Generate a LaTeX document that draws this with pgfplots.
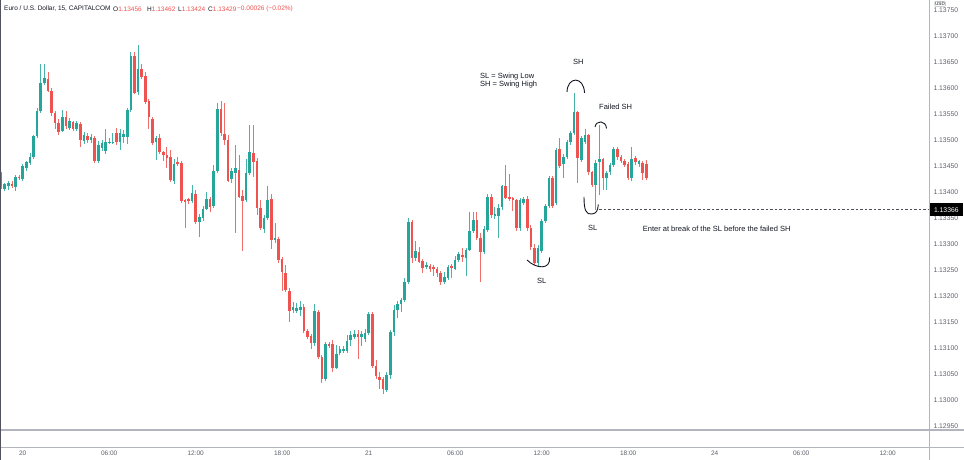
\documentclass[border=0pt]{standalone}
\usepackage{pgfplots}
\pgfplotsset{compat=1.18}
\usepackage{pgfplotstable}
\usepackage{fontspec}
\setmainfont{Liberation Sans}
\definecolor{upc}{HTML}{26A69A}
\definecolor{dnc}{HTML}{EF5350}
\definecolor{txt}{HTML}{131722}
\definecolor{lbl}{HTML}{5D606B}
\definecolor{brd}{HTML}{B2B5BE}
\definecolor{edge}{HTML}{50535E}
\newcommand\fs[1]{\fontsize{#1}{#1}\selectfont}

\pgfplotstableread{
t o h l c
-6 1.13437 1.13440 1.13406 1.13410
-5 1.13406 1.13417 1.13402 1.13415
-4 1.13412 1.13421 1.13404 1.13417
-3 1.13417 1.13421 1.13408 1.13413
-2 1.13410 1.13433 1.13402 1.13429
-1 1.13429 1.13433 1.13423 1.13427
0 1.13427 1.13456 1.13423 1.13452
1 1.13448 1.13462 1.13442 1.13458
2 1.13456 1.13475 1.13452 1.13467
3 1.13467 1.13512 1.13465 1.13508
4 1.13508 1.13562 1.13504 1.13556
5 1.13556 1.13648 1.13552 1.13610
6 1.13610 1.13648 1.13606 1.13619
7 1.13619 1.13631 1.13592 1.13596
8 1.13596 1.13600 1.13546 1.13552
9 1.13552 1.13558 1.13523 1.13533
10 1.13533 1.13542 1.13510 1.13515
11 1.13519 1.13558 1.13515 1.13546
12 1.13544 1.13558 1.13523 1.13527
13 1.13525 1.13542 1.13519 1.13537
14 1.13535 1.13538 1.13517 1.13523
15 1.13523 1.13537 1.13519 1.13533
16 1.13531 1.13535 1.13487 1.13500
17 1.13498 1.13517 1.13494 1.13510
18 1.13508 1.13513 1.13494 1.13500
19 1.13500 1.13512 1.13494 1.13506
20 1.13504 1.13508 1.13456 1.13460
21 1.13460 1.13500 1.13456 1.13490
22 1.13485 1.13502 1.13481 1.13494
23 1.13479 1.13523 1.13475 1.13496
24 1.13496 1.13504 1.13492 1.13498
25 1.13496 1.13513 1.13492 1.13498
26 1.13513 1.13523 1.13490 1.13496
27 1.13496 1.13523 1.13481 1.13513
28 1.13506 1.13519 1.13494 1.13512
29 1.13506 1.13562 1.13494 1.13558
30 1.13558 1.13669 1.13554 1.13662
31 1.13662 1.13669 1.13588 1.13592
32 1.13592 1.13685 1.13588 1.13637
33 1.13637 1.13648 1.13619 1.13623
34 1.13625 1.13631 1.13571 1.13575
35 1.13575 1.13579 1.13523 1.13544
36 1.13542 1.13546 1.13492 1.13496
37 1.13496 1.13508 1.13462 1.13504
38 1.13504 1.13512 1.13473 1.13477
39 1.13477 1.13481 1.13462 1.13471
40 1.13473 1.13487 1.13446 1.13467
41 1.13469 1.13481 1.13421 1.13425
42 1.13423 1.13465 1.13417 1.13456
43 1.13458 1.13467 1.13450 1.13454
44 1.13456 1.13460 1.13379 1.13383
45 1.13385 1.13387 1.13331 1.13383
46 1.13387 1.13390 1.13379 1.13383
47 1.13383 1.13415 1.13379 1.13398
48 1.13398 1.13404 1.13340 1.13344
49 1.13344 1.13358 1.13313 1.13352
50 1.13352 1.13375 1.13346 1.13369
51 1.13369 1.13400 1.13365 1.13387
52 1.13387 1.13390 1.13362 1.13373
53 1.13373 1.13452 1.13369 1.13440
54 1.13440 1.13571 1.13437 1.13560
55 1.13560 1.13577 1.13510 1.13513
56 1.13513 1.13571 1.13490 1.13500
57 1.13502 1.13510 1.13419 1.13423
58 1.13425 1.13446 1.13417 1.13440
59 1.13437 1.13490 1.13321 1.13446
60 1.13444 1.13471 1.13388 1.13392
61 1.13392 1.13404 1.13288 1.13383
62 1.13385 1.13465 1.13381 1.13437
63 1.13437 1.13529 1.13433 1.13477
64 1.13477 1.13529 1.13429 1.13460
65 1.13460 1.13465 1.13356 1.13369
66 1.13369 1.13385 1.13327 1.13331
67 1.13331 1.13356 1.13321 1.13352
68 1.13352 1.13413 1.13346 1.13387
69 1.13387 1.13398 1.13292 1.13308
70 1.13308 1.13340 1.13302 1.13312
71 1.13310 1.13315 1.13265 1.13269
72 1.13271 1.13277 1.13212 1.13246
73 1.13246 1.13260 1.13208 1.13212
74 1.13212 1.13215 1.13150 1.13173
75 1.13173 1.13188 1.13167 1.13179
76 1.13173 1.13187 1.13169 1.13177
77 1.13173 1.13190 1.13162 1.13179
78 1.13179 1.13185 1.13129 1.13133
79 1.13133 1.13138 1.13119 1.13123
80 1.13123 1.13129 1.13100 1.13110
81 1.13110 1.13187 1.13106 1.13171
82 1.13171 1.13175 1.13079 1.13083
83 1.13083 1.13087 1.13033 1.13040
84 1.13040 1.13113 1.13037 1.13108
85 1.13108 1.13113 1.13100 1.13106
86 1.13108 1.13115 1.13054 1.13062
87 1.13062 1.13106 1.13060 1.13090
88 1.13090 1.13104 1.13087 1.13098
89 1.13096 1.13104 1.13090 1.13098
90 1.13096 1.13125 1.13090 1.13115
91 1.13115 1.13133 1.13104 1.13125
92 1.13123 1.13135 1.13119 1.13127
93 1.13127 1.13135 1.13079 1.13123
94 1.13123 1.13133 1.13104 1.13127
95 1.13119 1.13138 1.13113 1.13129
96 1.13129 1.13169 1.13125 1.13165
97 1.13165 1.13169 1.13062 1.13065
98 1.13065 1.13077 1.13040 1.13046
99 1.13046 1.13054 1.13021 1.13040
100 1.13040 1.13046 1.13012 1.13021
101 1.13019 1.13054 1.13015 1.13048
102 1.13048 1.13135 1.13040 1.13131
103 1.13131 1.13183 1.13125 1.13173
104 1.13173 1.13192 1.13158 1.13185
105 1.13185 1.13196 1.13169 1.13192
106 1.13192 1.13235 1.13188 1.13227
107 1.13227 1.13350 1.13223 1.13342
108 1.13342 1.13346 1.13263 1.13273
109 1.13273 1.13308 1.13269 1.13287
110 1.13285 1.13294 1.13263 1.13267
111 1.13269 1.13273 1.13246 1.13256
112 1.13256 1.13265 1.13252 1.13260
113 1.13258 1.13262 1.13246 1.13252
114 1.13256 1.13260 1.13240 1.13252
115 1.13252 1.13256 1.13237 1.13244
116 1.13244 1.13250 1.13223 1.13227
117 1.13227 1.13246 1.13223 1.13237
118 1.13237 1.13262 1.13233 1.13258
119 1.13258 1.13263 1.13235 1.13254
120 1.13254 1.13277 1.13250 1.13271
121 1.13271 1.13285 1.13267 1.13281
122 1.13279 1.13292 1.13265 1.13275
123 1.13275 1.13294 1.13240 1.13290
124 1.13290 1.13362 1.13287 1.13327
125 1.13327 1.13363 1.13323 1.13348
126 1.13348 1.13362 1.13308 1.13312
127 1.13313 1.13323 1.13227 1.13285
128 1.13285 1.13335 1.13281 1.13329
129 1.13329 1.13398 1.13325 1.13392
130 1.13390 1.13396 1.13350 1.13356
131 1.13356 1.13373 1.13350 1.13358
132 1.13356 1.13377 1.13312 1.13371
133 1.13371 1.13415 1.13367 1.13412
134 1.13412 1.13452 1.13387 1.13390
135 1.13390 1.13435 1.13383 1.13387
136 1.13388 1.13392 1.13365 1.13385
137 1.13385 1.13388 1.13327 1.13331
138 1.13331 1.13388 1.13325 1.13385
139 1.13381 1.13392 1.13377 1.13388
140 1.13388 1.13392 1.13325 1.13331
141 1.13331 1.13337 1.13288 1.13294
142 1.13294 1.13300 1.13260 1.13265
143 1.13265 1.13300 1.13256 1.13294
144 1.13288 1.13350 1.13285 1.13346
145 1.13346 1.13379 1.13342 1.13375
146 1.13375 1.13431 1.13371 1.13427
147 1.13427 1.13431 1.13371 1.13375
148 1.13379 1.13485 1.13375 1.13481
149 1.13485 1.13504 1.13446 1.13452
150 1.13456 1.13475 1.13427 1.13469
151 1.13467 1.13500 1.13463 1.13496
152 1.13496 1.13519 1.13492 1.13513
153 1.13513 1.13592 1.13510 1.13554
154 1.13554 1.13558 1.13419 1.13465
155 1.13462 1.13508 1.13458 1.13504
156 1.13496 1.13521 1.13492 1.13510
157 1.13510 1.13513 1.13433 1.13437
158 1.13438 1.13442 1.13410 1.13413
159 1.13413 1.13462 1.13366 1.13456
160 1.13458 1.13529 1.13394 1.13463
161 1.13462 1.13465 1.13404 1.13427
162 1.13427 1.13442 1.13404 1.13437
163 1.13437 1.13456 1.13433 1.13452
164 1.13452 1.13487 1.13448 1.13483
165 1.13483 1.13487 1.13462 1.13467
166 1.13467 1.13471 1.13456 1.13460
167 1.13460 1.13463 1.13448 1.13452
168 1.13454 1.13458 1.13423 1.13427
169 1.13427 1.13487 1.13423 1.13465
170 1.13465 1.13471 1.13454 1.13458
171 1.13454 1.13463 1.13450 1.13460
172 1.13456 1.13460 1.13423 1.13438
173 1.13456 1.13462 1.13424 1.13429
}\candles

\pgfplotsset{
  wick/.style={only marks, mark=*, mark size=0pt, mark options={draw=none, fill=none}, forget plot,
    error bars/y dir=both, error bars/y explicit, error bars/error mark=none,
    error bars/error bar style={line width=0.75pt, draw=#1}},
  body/.style={only marks, mark=*, mark size=0pt, mark options={draw=none, fill=none}, forget plot,
    error bars/y dir=both, error bars/y explicit, error bars/error mark=none,
    error bars/error bar style={line width=2.6pt, draw=#1, line cap=butt}},
}

\begin{document}
\begin{tikzpicture}
\useasboundingbox (0,0) rectangle (964pt,460pt);
\fill[white] (0,0) rectangle (964pt,460pt);
\begin{axis}[
  at={(0pt,30pt)}, anchor=south west,
  scale only axis, width=929pt, height=430pt,
  xmin=-6.3, xmax=251.47, ymin=1.1294231, ymax=1.1376923,
  axis line style={draw=none},
  tick style={draw=none},
  xtick={0,24,48,72,96,120,144,168,192,216,240},
  xticklabels={20,06:00,12:00,18:00,21,06:00,12:00,18:00,24,06:00,12:00},
  xticklabel style={anchor=center, yshift=-23pt, font=\fs{6.5}, text=lbl},
  ytick={1.1295,1.13,1.1305,1.131,1.1315,1.132,1.1325,1.133,1.1335,1.134,1.1345,1.135,1.1355,1.136,1.1365,1.137,1.1375},
  yticklabels={1.12950,1.13000,1.13050,1.13100,1.13150,1.13200,1.13250,1.13300,1.13350,1.13400,1.13450,1.13500,1.13550,1.13600,1.13650,1.13700,1.13750},
  ytick pos=right, yticklabel pos=right,
  yticklabel style={anchor=west, xshift=1pt, font=\fs{6.8}, text=lbl},
  scaled y ticks=false,
]
% wicks
\addplot[wick=upc!85, restrict expr to domain={\thisrow{c}-\thisrow{o}}{0:1}]
  table[x=t, y expr={(\thisrow{h}+\thisrow{l})/2}, y error expr={(\thisrow{h}-\thisrow{l})/2}] {\candles};
\addplot[wick=dnc!85, restrict expr to domain={\thisrow{o}-\thisrow{c}}{0.000001:1}]
  table[x=t, y expr={(\thisrow{h}+\thisrow{l})/2}, y error expr={(\thisrow{h}-\thisrow{l})/2}] {\candles};
% bodies
\addplot[body=upc, restrict expr to domain={\thisrow{c}-\thisrow{o}}{0:1}]
  table[x=t, y expr={(\thisrow{o}+\thisrow{c})/2}, y error expr={max(abs(\thisrow{c}-\thisrow{o})/2,0.000006)}] {\candles};
\addplot[body=dnc, restrict expr to domain={\thisrow{o}-\thisrow{c}}{0.000001:1}]
  table[x=t, y expr={(\thisrow{o}+\thisrow{c})/2}, y error expr={max(abs(\thisrow{c}-\thisrow{o})/2,0.000006)}] {\candles};
% break level
\draw[txt!75, line width=0.5pt, dash pattern=on 2.5pt off 2pt] (axis cs:160,1.13366) -- (axis cs:251.47,1.13366);
\end{axis}

% frame lines
\draw[brd, line width=1.3pt] (0,30pt) -- (964pt,30pt);
\draw[brd, line width=0.6pt] (0,13pt) -- (964pt,13pt);
\draw[brd, line width=0.7pt] (929pt,0) -- (929pt,460pt);
\draw[edge, line width=1.2pt] (0.6pt,0) -- (0.6pt,460pt);

% price label of the break level
\fill[black] (929.5pt,244pt) rectangle (963pt,256.5pt);
\node[text=white, font=\fs{6.8}, inner sep=0pt] at (946.3pt,250.3pt) {1.13366};
% USD box
\node[draw=brd, fill=white, rounded corners=1pt, inner sep=0.7pt, font=\fs{4.6}, text=txt] at (940pt,456pt) {USD};

% header
\node[anchor=west, inner sep=0pt, font=\fs{6.5}, text=txt] at (4pt,451pt) {Euro / U.S. Dollar, 15, CAPITALCOM};
\node[anchor=west, inner sep=0pt, font=\fs{6.5}, text=txt] at (113pt,451pt) {O\textcolor{dnc}{1.13456}};
\node[anchor=west, inner sep=0pt, font=\fs{6.5}, text=txt] at (147pt,451pt) {H\textcolor{dnc}{1.13462}};
\node[anchor=west, inner sep=0pt, font=\fs{6.5}, text=txt] at (178pt,451pt) {L\textcolor{dnc}{1.13424}};
\node[anchor=west, inner sep=0pt, font=\fs{6.5}, text=txt] at (208pt,451pt) {C\textcolor{dnc}{1.13429}};
\node[anchor=west, inner sep=0pt, font=\fs{6.5}, text=dnc] at (237pt,451pt) {−0.00026 (−0.02\%)};

% annotations
\begin{scope}[txt, line width=0.9pt]
\draw (567pt,368pt) .. controls (567.5pt,384pt) and (584pt,384pt) .. (584.5pt,367pt);
\draw (595pt,333pt) .. controls (596pt,340pt) and (606pt,340pt) .. (606.5pt,331.5pt);
\draw (584pt,263pt) .. controls (584pt,250pt) and (586pt,245pt) .. (592pt,246pt) .. controls (596pt,246.5pt) and (598pt,249pt) .. (598.3pt,255.5pt);
\draw (527pt,200pt) .. controls (536pt,191pt) and (551pt,190pt) .. (549.5pt,202.5pt);
\end{scope}
\begin{scope}[every node/.style={inner sep=0pt, font=\fs{7.5}, text=txt}]
\node at (578.3pt,398.3pt) {SH};
\node[anchor=west] at (480pt,383.3pt) {SL = Swing Low};
\node[anchor=west] at (480pt,375.5pt) {SH = Swing High};
\node[anchor=west] at (599pt,353pt) {Failed SH};
\node at (592.7pt,232.3pt) {SL};
\node[anchor=west] at (642.7pt,231pt) {Enter at break of the SL before the failed SH};
\node at (541.7pt,179pt) {SL};
\end{scope}
\end{tikzpicture}
\end{document}
